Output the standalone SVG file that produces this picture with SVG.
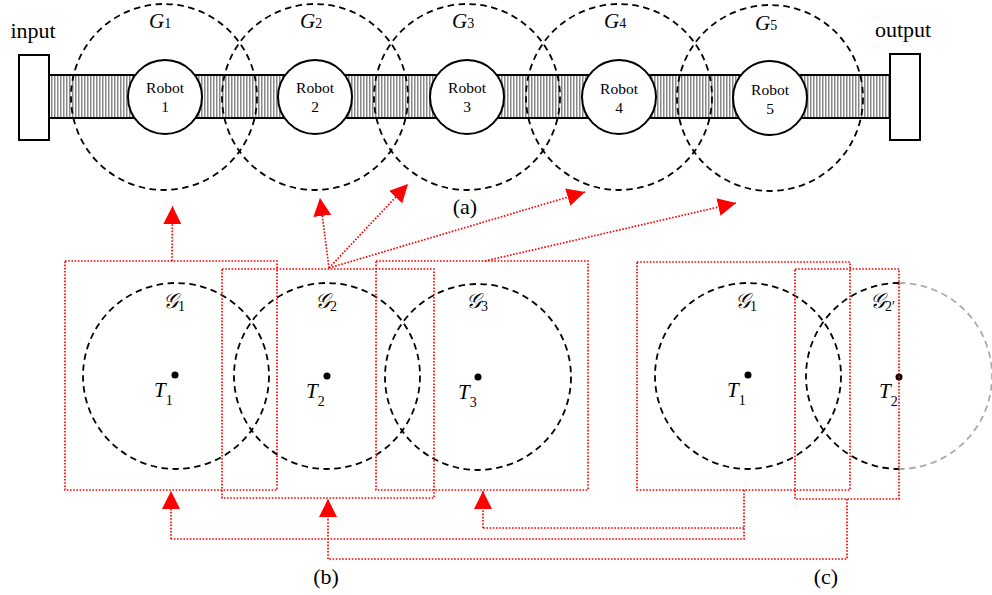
<svg xmlns="http://www.w3.org/2000/svg" width="992" height="595" viewBox="0 0 992 595">
<style>
text{font-family:"Liberation Serif","Times New Roman",serif;fill:#000}
.lab{font-size:22px}
.rob{font-size:15.5px;text-anchor:middle}
.gi{font-size:21px;font-style:italic}
.sub{font-size:14px;font-style:normal}
.dash{fill:none;stroke:#000;stroke-width:1.8;stroke-dasharray:6.5 4.5}
.grey{fill:none;stroke:#aaa;stroke-width:1.8;stroke-dasharray:6.5 4.5}
.robot{fill:#fff;stroke:#000;stroke-width:2}
.red{fill:none;stroke:#f00;stroke-width:1.7;stroke-dasharray:1.6 1.6}
.arr{marker-end:url(#ah)}
.dot{fill:#000}
</style>
<defs>
<pattern id="stripes" patternUnits="userSpaceOnUse" width="3" height="10">
<rect width="3" height="10" fill="#fff"/>
<rect width="1.5" height="10" fill="#888"/>
</pattern>
<marker id="ah" markerUnits="userSpaceOnUse" markerWidth="18" markerHeight="18" viewBox="0 0 16 16" refX="16" refY="8" orient="auto">
<path d="M0,0 L16,8 L0,16 Z" fill="#f00"/>
</marker>
</defs>

<g id="belt">
<rect x="49" y="75" width="841" height="43" fill="url(#stripes)"/>
<line x1="49" y1="75" x2="890" y2="75" stroke="#000" stroke-width="2"/>
<line x1="49" y1="118" x2="890" y2="118" stroke="#000" stroke-width="2"/>
</g>
<g id="input">
<rect x="19" y="55" width="30" height="85" fill="#fff" stroke="#000" stroke-width="2"/>
<text class="lab" x="33" y="38" text-anchor="middle">input</text>
</g>
<g id="output">
<rect x="890" y="54" width="30" height="86" fill="#fff" stroke="#000" stroke-width="2"/>
<text class="lab" x="903" y="37" text-anchor="middle">output</text>
</g>

<g id="G1top"><circle class="dash" cx="164" cy="97" r="93"/><text class="gi" x="149" y="28">G<tspan class="sub">1</tspan></text></g>
<g id="G2top"><circle class="dash" cx="315" cy="97" r="93"/><text class="gi" x="300" y="28">G<tspan class="sub">2</tspan></text></g>
<g id="G3top"><circle class="dash" cx="467" cy="97" r="93"/><text class="gi" x="452" y="28">G<tspan class="sub">3</tspan></text></g>
<g id="G4top"><circle class="dash" cx="619" cy="97" r="93"/><text class="gi" x="604" y="28">G<tspan class="sub">4</tspan></text></g>
<g id="G5top"><circle class="dash" cx="770" cy="98" r="93"/><text class="gi" x="755" y="30">G<tspan class="sub">5</tspan></text></g>

<g id="robot1"><circle class="robot" cx="165" cy="97" r="37"/><text class="rob" x="165" y="93">Robot</text><text class="rob" x="165" y="112">1</text></g>
<g id="robot2"><circle class="robot" cx="315" cy="97" r="37"/><text class="rob" x="315" y="93">Robot</text><text class="rob" x="315" y="112">2</text></g>
<g id="robot3"><circle class="robot" cx="467" cy="97" r="37"/><text class="rob" x="467" y="93">Robot</text><text class="rob" x="467" y="112">3</text></g>
<g id="robot4"><circle class="robot" cx="619" cy="97" r="37"/><text class="rob" x="619" y="94">Robot</text><text class="rob" x="619" y="113">4</text></g>
<g id="robot5"><circle class="robot" cx="770" cy="98" r="37"/><text class="rob" x="770" y="95">Robot</text><text class="rob" x="770" y="114">5</text></g>

<text class="lab" x="465" y="214" text-anchor="middle">(a)</text>

<!-- (b) -->
<g id="b-G1"><circle class="dash" cx="176" cy="376" r="93"/><circle class="dot" cx="175" cy="375" r="3.5"/>
<text class="gi" x="163" y="308">𝒢<tspan class="sub" dy="3">1</tspan></text>
<text class="gi" x="154" y="397">T<tspan class="sub" dy="8">1</tspan></text></g>
<g id="b-G2"><circle class="dash" cx="327" cy="376" r="93"/><circle class="dot" cx="327" cy="376" r="3.5"/>
<text class="gi" x="315" y="308">𝒢<tspan class="sub" dy="3">2</tspan></text>
<text class="gi" x="306" y="398">T<tspan class="sub" dy="8">2</tspan></text></g>
<g id="b-G3"><circle class="dash" cx="478" cy="377" r="93"/><circle class="dot" cx="478" cy="377" r="3.5"/>
<text class="gi" x="466" y="308">𝒢<tspan class="sub" dy="3">3</tspan></text>
<text class="gi" x="458" y="399">T<tspan class="sub" dy="8">3</tspan></text></g>
<g id="b-box1"><rect class="red" x="65" y="261" width="212" height="229"/></g>
<g id="b-box2"><rect class="red" x="222" y="269" width="212" height="229"/></g>
<g id="b-box3"><rect class="red" x="376" y="261" width="212" height="229"/></g>
<text class="lab" x="326" y="584" text-anchor="middle">(b)</text>

<!-- (c) -->
<g id="c-G1"><circle class="dash" cx="748" cy="376" r="93"/><circle class="dot" cx="748" cy="375" r="3.5"/>
<text class="gi" x="735" y="308">𝒢<tspan class="sub" dy="3">1</tspan></text>
<text class="gi" x="727" y="397">T<tspan class="sub" dy="8">1</tspan></text></g>
<g id="c-G2"><path class="dash" d="M899,283 A93,93 0 0 0 899,469"/><path class="grey" d="M899,283 A93,93 0 0 1 899,469"/>
<circle class="dot" cx="899" cy="377" r="3.5"/>
<text class="gi" x="870" y="308">𝒢<tspan class="sub" dy="3">2′</tspan></text>
<text class="gi" x="879" y="398">T<tspan class="sub" dy="8">2</tspan></text></g>
<g id="c-box1"><rect class="red" x="637" y="262" width="213" height="228"/></g>
<g id="c-box2"><rect class="red" x="795" y="269" width="104" height="230"/></g>
<text class="lab" x="826" y="584" text-anchor="middle">(c)</text>

<g id="connectors">
<line class="red arr" x1="172" y1="261" x2="172.5" y2="206"/>
<line class="red arr" x1="329" y1="268" x2="320" y2="198"/>
<line class="red arr" x1="329" y1="268" x2="408" y2="184"/>
<line class="red arr" x1="329" y1="268" x2="585" y2="192"/>
<line class="red arr" x1="485" y1="261" x2="736" y2="203"/>
<path class="red" d="M744,490 V539 H171"/>
<line class="red arr" x1="171" y1="539" x2="171" y2="491"/>
<path class="red" d="M744,528 H483"/>
<line class="red arr" x1="483" y1="528" x2="483" y2="491"/>
<path class="red" d="M847,499 V559 H328"/>
<line class="red arr" x1="328" y1="559" x2="328" y2="499"/>
</g>
</svg>
